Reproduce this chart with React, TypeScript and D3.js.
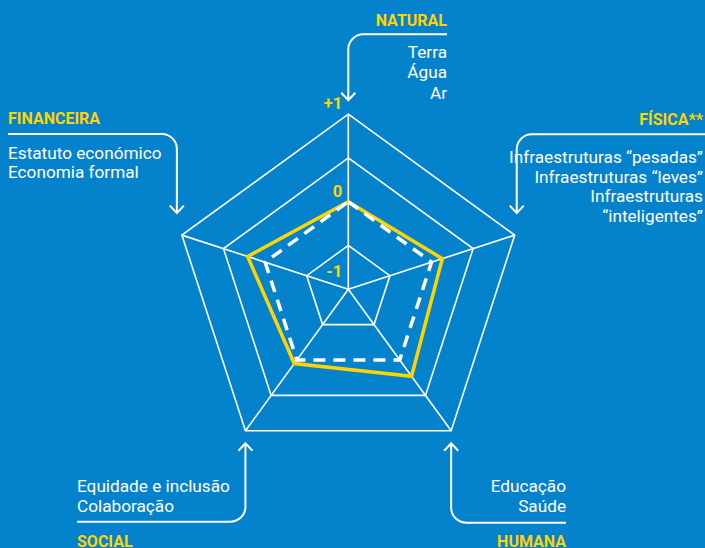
import * as d3 from "d3";

const W = 705;
const H = 548;

// axes clockwise from the top
const axes = ["NATURAL", "FÍSICA**", "HUMANA", "SOCIAL", "FINANCEIRA"];
const axisItems = [
  ["Terra", "Água", "Ar"],
  ["Infraestruturas “pesadas”", "Infraestruturas “leves”", "Infraestruturas", "“inteligentes”"],
  ["Educação", "Saúde"],
  ["Equidade e inclusão", "Colaboração"],
  ["Estatuto económico", "Economia formal"],
];
const scores = [0, 0.13, 0.23, 0.05, 0.21];
const baseline = [0, 0, 0, 0, 0];
const gridValues = [-1, 0.5, 1];
const tickValues = [1, 0, -1];
const tickLabels = ["+1", "0", "-1"];

const BLUE = "#0582cc";
const YELLOW = "#ffd400";
const FONT = "Roboto, 'Noto Sans', sans-serif";

const cx = 348.3;
const cy = 289.2;
const R = 175;

const rScale = d3.scaleLinear().domain([-2, -1, 0, 1]).range([0, R / 4, R / 2, R]);
const aScale = d3.scalePoint<string>().domain(axes).range([0, (2 * Math.PI * 4) / 5]);

const pt = (i: number, v: number): [number, number] => {
  const a = aScale(axes[i])!;
  return [cx + rScale(v) * Math.sin(a), cy - rScale(v) * Math.cos(a)];
};

const radial = d3
  .lineRadial<number>()
  .angle((_, i) => aScale(axes[i])!)
  .radius((d) => rScale(d))
  .curve(d3.curveLinearClosed);

// callout layout for each axis
function calloutLayout(i: number) {
  const [vx, vy] = pt(i, 1);
  switch (i) {
    case 0:
      return { anchor: "end", tx: 447, titleY: 26, itemY: 57.5, step: 20.5, lineY: 34.3, endX: 447, tipX: vx, tipY: vy - 14 };
    case 1:
      return { anchor: "end", tx: 703, titleY: 125, itemY: 163, step: 19.5, lineY: 134.3, endX: W, tipX: vx + 2, tipY: vy - 22 };
    case 2:
      return { anchor: "end", tx: 566, titleY: 547, itemY: 491.7, step: 20, lineY: 522.7, endX: 566, tipX: vx, tipY: vy + 12.5 };
    case 3:
      return { anchor: "start", tx: 77, titleY: 547, itemY: 491.7, step: 20, lineY: 521.7, endX: 77, tipX: vx, tipY: vy + 12.5 };
    default:
      return { anchor: "start", tx: 8, titleY: 124, itemY: 159, step: 18.5, lineY: 134, endX: 8, tipX: vx - 5, tipY: vy - 22 };
  }
}

function calloutPath(c: ReturnType<typeof calloutLayout>) {
  const p = d3.path();
  const dir = Math.sign(c.tipY - c.lineY);
  p.moveTo(c.endX, c.lineY);
  p.arcTo(c.tipX, c.lineY, c.tipX, c.tipY, 15);
  p.lineTo(c.tipX, c.tipY);
  p.moveTo(c.tipX - 7, c.tipY - dir * 7.5);
  p.lineTo(c.tipX, c.tipY);
  p.lineTo(c.tipX + 7, c.tipY - dir * 7.5);
  return p.toString();
}

export default function App() {
  return (
    <svg
      width={W}
      height={H}
      style={{ position: "absolute", left: 0, top: 0, display: "block" }}
      fontFamily={FONT}
    >
      <rect width={W} height={H} fill={BLUE} />

      <g transform={`translate(${cx},${cy})`} fill="none" stroke="#fff" strokeWidth={1.6}>
        {gridValues.map((g) => (
          <path key={g} d={radial(axes.map(() => g)) ?? ""} strokeLinejoin="miter" />
        ))}
        {axes.map((a) => {
          const ang = aScale(a)!;
          return <line key={a} x1={0} y1={0} x2={R * Math.sin(ang)} y2={-R * Math.cos(ang)} />;
        })}
        <path d={radial(scores) ?? ""} stroke={YELLOW} strokeWidth={3.5} strokeLinejoin="miter" />
        <path d={radial(baseline) ?? ""} stroke="#fff" strokeWidth={3.5} strokeDasharray="12 8" strokeLinejoin="miter" />
      </g>

      {tickValues.map((v, k) => (
        <text
          key={v}
          x={cx - 6}
          y={v < 0 ? cy - rScale(v) + 32 : cy - rScale(v) - 5}
          textAnchor="end"
          fill={YELLOW}
          fontWeight="bold"
          fontSize={16.5}
        >
          {tickLabels[k]}
        </text>
      ))}

      {axes.map((a, i) => {
        const c = calloutLayout(i);
        return (
          <g key={a}>
            <path d={calloutPath(c)} fill="none" stroke="#fff" strokeWidth={2} />
            <text x={c.tx} y={c.titleY} textAnchor={c.anchor} fill={YELLOW} fontWeight="bold" fontSize={16}>
              {a}
            </text>
            {axisItems[i].map((t, j) => (
              <text key={t} x={c.tx} y={c.itemY + j * c.step} textAnchor={c.anchor} fill="#fff" fontSize={17.2}>
                {t}
              </text>
            ))}
          </g>
        );
      })}
    </svg>
  );
}
